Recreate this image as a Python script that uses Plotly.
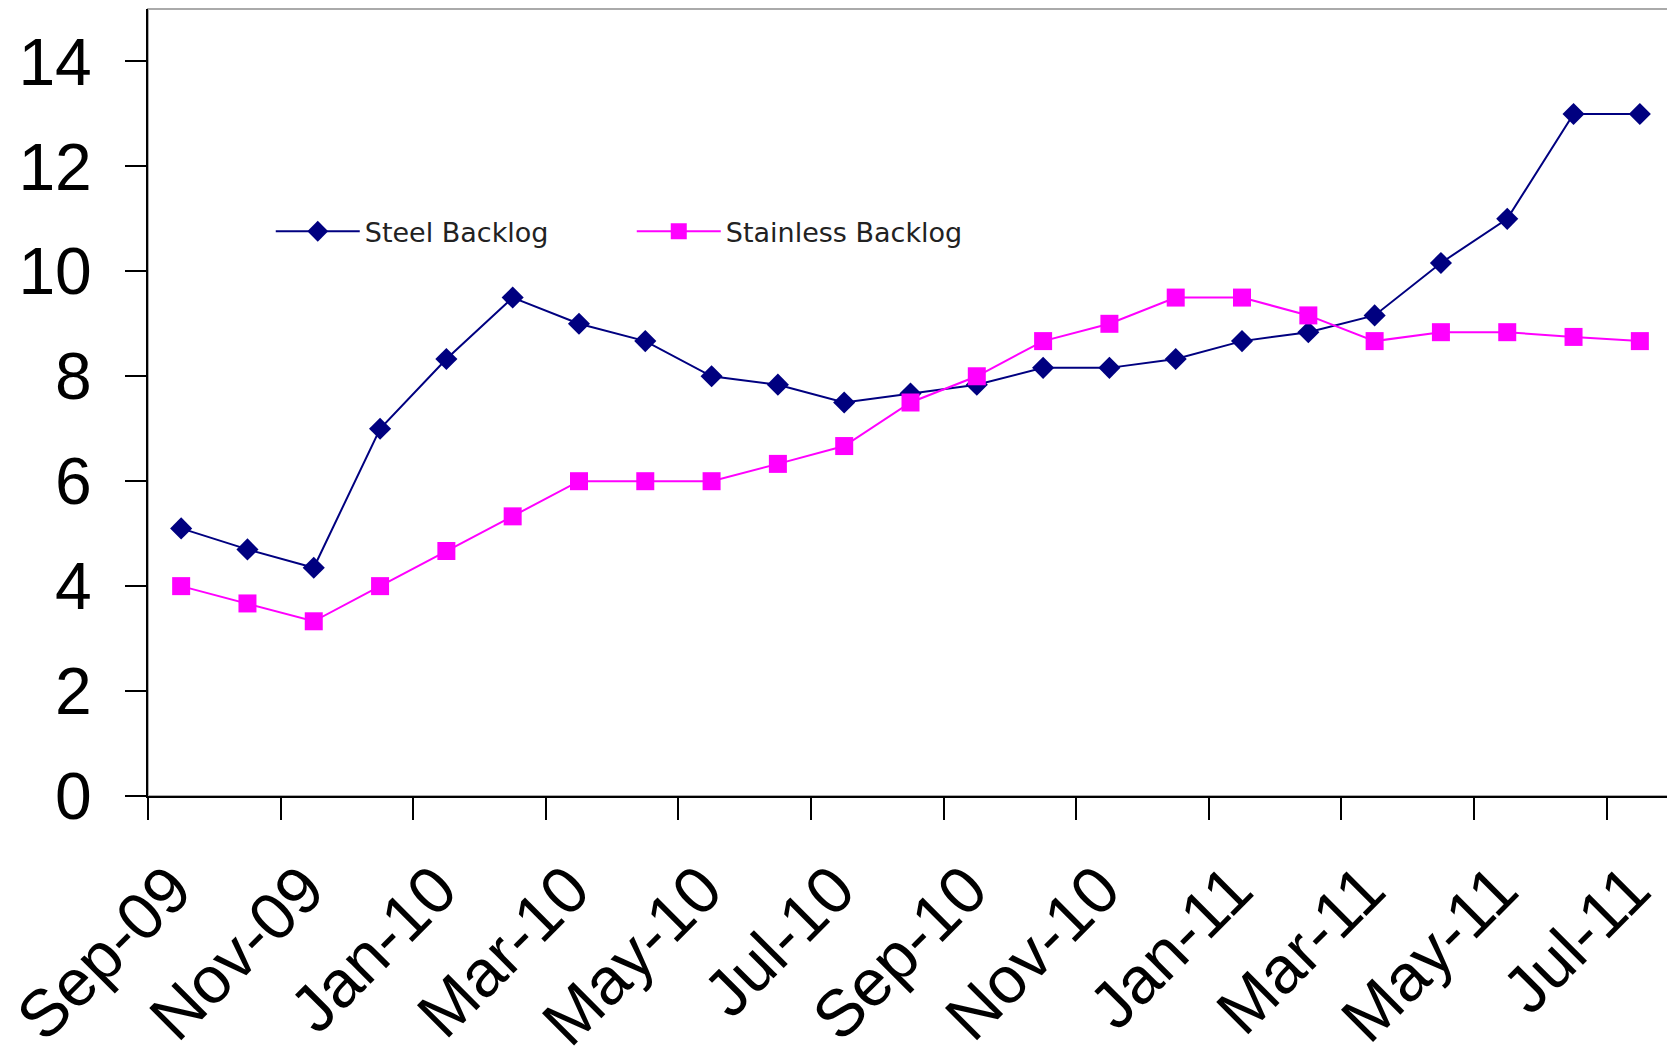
import plotly.graph_objects as go

# monthly backlog, Sep-09 .. Jul-11
months = ["Sep-09", "Oct-09", "Nov-09", "Dec-09", "Jan-10", "Feb-10", "Mar-10", "Apr-10",
          "May-10", "Jun-10", "Jul-10", "Aug-10", "Sep-10", "Oct-10", "Nov-10", "Dec-10",
          "Jan-11", "Feb-11", "Mar-11", "Apr-11", "May-11", "Jun-11", "Jul-11"]
steel = [5.1, 4.7, 4.35, 7.0, 8.33, 9.5, 9.0, 8.67, 8.0, 7.84, 7.5, 7.67, 7.84,
         8.16, 8.16, 8.33, 8.67, 8.84, 9.16, 10.16, 11.0, 13.0, 13.0]
stainless = [4.0, 3.67, 3.33, 4.0, 4.67, 5.33, 6.0, 6.0, 6.0, 6.33, 6.67, 7.5, 8.0,
             8.67, 9.0, 9.5, 9.5, 9.16, 8.67, 8.84, 8.84, 8.75, 8.67]
tick_labels = ["Sep-09", "Nov-09", "Jan-10", "Mar-10", "May-10", "Jul-10",
               "Sep-10", "Nov-10", "Jan-11", "Mar-11", "May-11", "Jul-11"]

x = list(range(len(months)))
tick_pos = [months.index(t) - 0.5 for t in tick_labels]

fig = go.Figure()
fig.add_trace(go.Scatter(x=x, y=steel, name="Steel Backlog", mode="lines+markers",
                         line=dict(color="#000080", width=2),
                         marker=dict(symbol="diamond", size=17, color="#000080")))
fig.add_trace(go.Scatter(x=x, y=stainless, name="Stainless Backlog", mode="lines+markers",
                         line=dict(color="#FF00FF", width=2),
                         marker=dict(symbol="square", size=18, color="#FF00FF")))

# light frame around plot area
fig.add_shape(type="rect", xref="paper", yref="paper", x0=0, y0=0, x1=1, y1=1,
              line=dict(color="#aaaaaa", width=2), layer="below")

# page body has an 8px margin, so the figure is a bit smaller than the window
fig.update_layout(
    width=1667, height=1054,
    margin=dict(l=140, r=2, t=1, b=266),
    plot_bgcolor="white", paper_bgcolor="white",
    font=dict(family="Liberation Sans, Arial", color="black"),
    showlegend=True,
    legend=dict(orientation="h", x=0.0805, y=0.717, xanchor="left", yanchor="middle",
                font=dict(family="DejaVu Sans", size=27, color="#222222"),
                bgcolor="rgba(0,0,0,0)",
                entrywidth=262, entrywidthmode="pixels", itemwidth=84),
)
fig.update_xaxes(range=[-0.5, 22.5], tickmode="array", tickvals=tick_pos, ticktext=tick_labels,
                 tickangle=-45, tickfont=dict(size=66), showgrid=False, zeroline=False,
                 showline=True, linecolor="black", linewidth=2, automargin=False,
                 ticklabeloverflow="allow", ticklabelshift=24, ticklabelstandoff=4,
                 ticks="outside", ticklen=22, tickwidth=2, tickcolor="black")
fig.update_yaxes(range=[0, 15], tickvals=[0, 2, 4, 6, 8, 10, 12, 14],
                 tickfont=dict(size=66), showgrid=False, zeroline=False,
                 showline=True, linecolor="black", linewidth=2, automargin=False,
                 ticklabeloverflow="allow",
                 ticks="outside", ticklen=21, tickwidth=2, tickcolor="black",
                 ticklabelstandoff=20)

fig.write_html("out.html")
